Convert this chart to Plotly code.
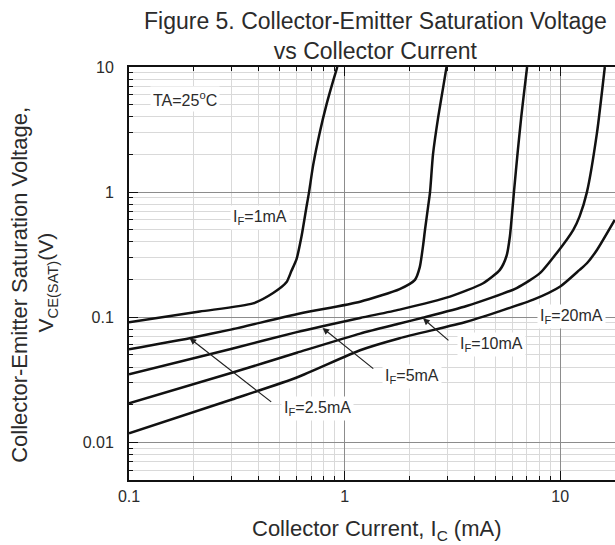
import numpy as np
import plotly.graph_objects as go

# ---------------- data ----------------
ic_if1 = [0.1, 0.213, 0.376, 0.466, 0.537, 0.567, 0.598, 0.631, 0.666, 0.684, 0.715, 0.767, 0.824, 0.884, 0.925]
v_if1 = [0.091, 0.111, 0.129, 0.156, 0.19, 0.235, 0.29, 0.441, 0.767, 1.0, 1.65, 3.0, 5.0, 7.7, 10.0]

ic_if25 = [0.1, 0.191, 0.3, 0.62, 1.18, 1.8, 2.12, 2.23, 2.31, 2.36, 2.44, 2.49, 2.57, 2.72, 2.87, 2.97]
v_if25 = [0.0555, 0.068, 0.080, 0.107, 0.133, 0.168, 0.199, 0.25, 0.37, 0.50, 0.77, 1.0, 2.0, 4.03, 7.0, 10.0]

ic_if5 = [0.1, 0.3, 0.6, 1.18, 1.8, 3.08, 4.39, 5.25, 5.64, 5.84, 6.0, 6.1, 6.35, 6.6, 6.85, 7.02]
v_if5 = [0.035, 0.056, 0.076, 0.0986, 0.115, 0.146, 0.187, 0.239, 0.31, 0.44, 0.72, 1.0, 2.1, 4.03, 7.0, 10.0]

ic_if10 = [0.1, 0.3, 0.6, 1.18, 1.8, 2.3, 3.68, 6.28, 8.05, 9.62, 11.5, 12.3, 13.3, 14.8, 16.1]
v_if10 = [0.0205, 0.036, 0.052, 0.074, 0.089, 0.099, 0.123, 0.171, 0.225, 0.325, 0.50, 0.64, 1.0, 2.96, 10.0]

ic_if20 = [0.1, 0.3, 0.6, 1.18, 1.8, 3.68, 5.26, 7.5, 10.0, 12.3, 13.3, 14.8, 17.9]
v_if20 = [0.0118, 0.022, 0.033, 0.0545, 0.068, 0.092, 0.112, 0.138, 0.176, 0.239, 0.27, 0.345, 0.60]

x_major = [0.1, 1, 10]
x_major_text = ["0.1", "1", "10"]
y_major = [0.01, 0.1, 1, 10]
y_major_text = ["0.01", "0.1", "1", "10"]
minor_vals = [m * 10.0 ** e for e in (-3, -2, -1, 0, 1) for m in range(2, 10)]

label_texts = ["TA=25<sup>o</sup>C", "I<sub>F</sub>=1mA", "I<sub>F</sub>=2.5mA",
               "I<sub>F</sub>=5mA", "I<sub>F</sub>=10mA", "I<sub>F</sub>=20mA"]
label_x = [0.181, 0.404, 0.751, 2.05, 4.82, 11.3]
label_y = [5.57, 0.622, 0.0188, 0.0333, 0.060, 0.102]

arrow_tip_x = [0.191, 0.79, 2.31]
arrow_tip_y = [0.068, 0.082, 0.098]
arrow_tail_x = [0.464, 1.38, 3.08]
arrow_tail_y = [0.0206, 0.038, 0.0638]

FONT = "Liberation Sans, Arial, sans-serif"
TXT = "#2b2b2b"

series = [(ic_if1, v_if1), (ic_if25, v_if25), (ic_if5, v_if5), (ic_if10, v_if10), (ic_if20, v_if20)]

fig = go.Figure()
for xs, ys in series:
    fig.add_trace(go.Scatter(
        x=xs, y=ys, mode="lines",
        line=dict(color="#111111", width=2.5, shape="spline", smoothing=0.6),
        showlegend=False, hoverinfo="skip"))

axis_common = dict(
    type="log", showline=True, linewidth=2, linecolor="#111111",
    ticks="inside", ticklen=9, tickwidth=1.2, tickcolor="#111111",
    showgrid=True, gridcolor="#8c8c8c", gridwidth=1,
    zeroline=False, tickfont=dict(family=FONT, size=16, color=TXT),
    minor=dict(tickmode="array", tickvals=minor_vals, ticks="inside", ticklen=4,
               tickwidth=1, tickcolor="#111111", showgrid=True,
               gridcolor="#d9d9d9", gridwidth=1),
)

fig.update_xaxes(**axis_common, range=[-1, np.log10(17.95)], tickmode="array",
                 tickvals=x_major, ticktext=x_major_text, mirror="allticks",
                 ticklabelstandoff=1)
fig.update_yaxes(**axis_common, range=[np.log10(0.005), 1], tickmode="array",
                 tickvals=y_major, ticktext=y_major_text, mirror=False,
                 ticklabelstandoff=10)

annotations = []
for t, x, y in zip(label_texts, label_x, label_y):
    annotations.append(dict(
        x=np.log10(x), y=np.log10(y), xref="x", yref="y", text=t, showarrow=False,
        font=dict(family=FONT, size=16, color=TXT), bgcolor="white",
        xanchor="center", yanchor="middle", borderpad=2))

for tx, ty, sx, sy in zip(arrow_tip_x, arrow_tip_y, arrow_tail_x, arrow_tail_y):
    annotations.append(dict(
        x=np.log10(tx), y=np.log10(ty), xref="x", yref="y",
        ax=np.log10(sx), ay=np.log10(sy), axref="x", ayref="y",
        text="", showarrow=True, arrowhead=2, arrowsize=1.1, arrowwidth=1.2,
        arrowcolor="#222222"))

# title and axis titles
annotations.append(dict(
    x=0.508, y=1.076, xref="paper", yref="paper", showarrow=False,
    text="Figure 5. Collector-Emitter Saturation Voltage<br>vs Collector Current",
    font=dict(family=FONT, size=23, color=TXT), xanchor="center", yanchor="middle",
    align="center"))
annotations.append(dict(
    x=0.51, y=-0.12, xref="paper", yref="paper", showarrow=False,
    text="Collector Current, I<sub>C</sub> (mA)",
    font=dict(family=FONT, size=22, color=TXT), xanchor="center", yanchor="middle"))
annotations.append(dict(
    x=-0.226, y=0.473, xref="paper", yref="paper", showarrow=False,
    text="Collector-Emitter Saturation Voltage,", textangle=-90,
    font=dict(family=FONT, size=22, color=TXT), xanchor="center", yanchor="middle"))
annotations.append(dict(
    x=-0.169, y=0.478, xref="paper", yref="paper", showarrow=False,
    text="V<sub>CE(SAT)</sub>(V)", textangle=-90,
    font=dict(family=FONT, size=21, color=TXT), xanchor="center", yanchor="middle"))

fig.update_layout(
    width=615, height=545,
    margin=dict(l=129, r=0, t=67, b=65),
    paper_bgcolor="white", plot_bgcolor="white",
    annotations=annotations, showlegend=False,
)

# remove the default page margin so the 615x545 figure fills the window exactly
fig.write_html("out.html",
               config={"displayModeBar": False, "staticPlot": True},
               post_script="document.body.style.margin='0';document.body.style.overflow='hidden';")
